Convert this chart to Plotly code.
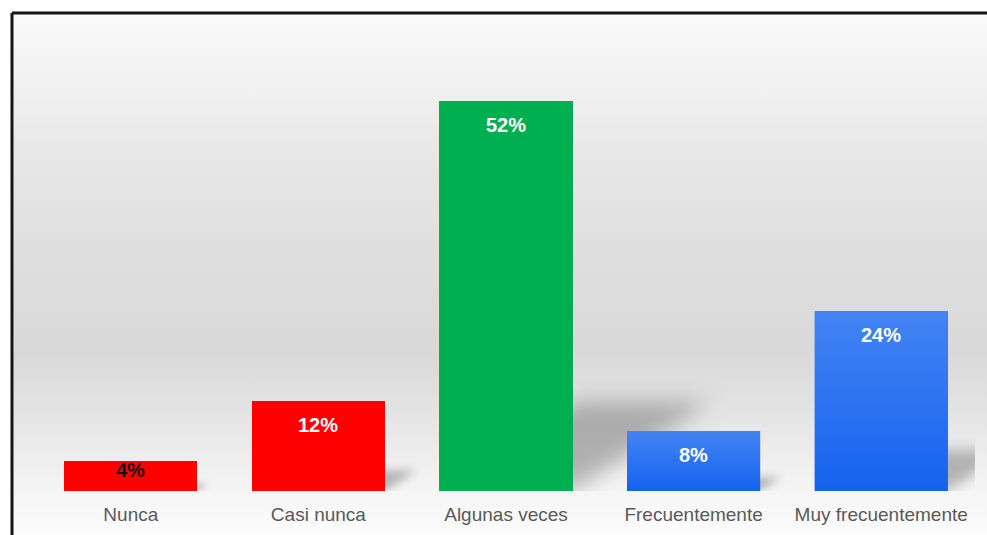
import base64
import plotly.graph_objects as go

# ---- data -------------------------------------------------------------
categories = ["Nunca", "Casi nunca", "Algunas veces", "Frecuentemente", "Muy frecuentemente"]
values = [4, 12, 52, 8, 24]
value_labels = ["4%", "12%", "52%", "8%", "24%"]

# ---- styling ----------------------------------------------------------
BAR_COLORS = ["#ff0000", "#ff0000", "#00b050", "#2b72f1", "#2b72f1"]
# vertical gradients (bottom, top) applied on top of the blue bars
BAR_GRADIENTS = [None, None, None, ("#1563ee", "#4384f3"), ("#1563ee", "#4384f3")]
BAR_WIDTH = 0.71
Y_MAX = 60

W, H = 987, 535
PLOT_X0, PLOT_X1 = 37, 975      # plotting area, px from the left
PLOT_Y0, PLOT_Y1 = 44, 494      # plotting area, px from the bottom
PLOT_W = PLOT_X1 - PLOT_X0
PLOT_H = PLOT_Y1 - PLOT_Y0
PX_X = PLOT_W / len(categories)   # pixels per category unit
PX_Y = PLOT_H / Y_MAX             # pixels per percent
X_MIN, X_MAX = -0.5, len(categories) - 0.5

# chart box: frame at 12 px from the left/top, wash starts just inside it
FRAME_X, FRAME_Y = 12, 13
WASH_STOPS = [(0.0, "#fafafa"), (0.165, "#efefef"), (0.26, "#e8e8e8"), (0.45, "#dfdfdf"),
              (0.645, "#d9d9d9"), (0.74, "#e1e1e1"), (0.837, "#ececec"), (0.916, "#f5f5f5"),
              (1.0, "#fcfcfc")]   # offsets measured from the top of the box

# cast-shadow geometry, relative to the bar height
SHADOW_RISE = 0.228
SHADOW_SHEAR = 0.354


def svg_uri(svg):
    return "data:image/svg+xml;base64," + base64.b64encode(svg.encode()).decode()


def shadow_image(i, v):
    """Blurred parallelogram cast by bar i onto the floor, placed in data coordinates."""
    bar_l, bar_r = i - BAR_WIDTH / 2, i + BAR_WIDTH / 2
    rise = SHADOW_RISE * v                       # data y units
    shear = SHADOW_SHEAR * v * PX_Y / PX_X       # data x units
    blur = 3 + 0.06 * shear * PX_X
    mx, my = 3 * blur / PX_X, 3 * blur / PX_Y
    x0 = bar_l
    x1 = min(bar_r + shear + mx, X_MAX + 0.005)  # keep inside the plotting area
    y0, y1 = 0, rise + my
    wp, hp = (x1 - x0) * PX_X, (y1 - y0) * PX_Y

    def px(x, y):
        return f"{(x - x0) * PX_X:.1f},{(y1 - y) * PX_Y:.1f}"

    pts = " ".join([px(bar_l, 0), px(bar_r, 0), px(bar_r + shear, rise), px(bar_l + shear, rise)])
    svg = (f'<svg xmlns="http://www.w3.org/2000/svg" width="{wp:.1f}" height="{hp:.1f}" '
           f'viewBox="0 0 {wp:.1f} {hp:.1f}" preserveAspectRatio="none"><defs>'
           f'<filter id="b" filterUnits="userSpaceOnUse" x="-50" y="-50" width="{wp + 200:.1f}" '
           f'height="{hp + 100:.1f}"><feGaussianBlur stdDeviation="{blur:.1f}"/></filter></defs>'
           f'<polygon points="{pts}" fill="#000" fill-opacity="0.26" filter="url(#b)"/></svg>')
    return dict(source=svg_uri(svg), xref="x2", yref="y2", x=x0, y=y1, sizex=x1 - x0, sizey=y1 - y0,
                xanchor="left", yanchor="top", sizing="stretch", layer="below")


xs = list(range(len(categories)))

fig = go.Figure()

# grey wash behind the chart, on a full-page pixel axis pair (x / y)
wx0, wy1 = FRAME_X + 1.5, H - FRAME_Y - 1.5
fig.add_trace(go.Scatter(
    x=[wx0, W, W, wx0, wx0], y=[0, 0, wy1, wy1, 0], xaxis="x", yaxis="y",
    mode="lines", fill="toself", line=dict(width=0), hoverinfo="skip", showlegend=False,
    fillgradient=dict(type="vertical", start=0, stop=wy1,
                      colorscale=sorted([[1 - o, c] for o, c in WASH_STOPS]))))

# bars on the chart axes (x2 / y2)
fig.add_trace(go.Bar(x=xs, y=values, width=BAR_WIDTH, xaxis="x2", yaxis="y2",
                     marker=dict(color=BAR_COLORS, line=dict(width=0)),
                     hoverinfo="skip", showlegend=False))

# gradient faces for the blue bars
for i, (v, grad) in enumerate(zip(values, BAR_GRADIENTS)):
    if grad is None:
        continue
    l, r = i - BAR_WIDTH / 2, i + BAR_WIDTH / 2
    fig.add_trace(go.Scatter(x=[l, r, r, l, l], y=[0, 0, v, v, 0], xaxis="x2", yaxis="y2",
                             mode="lines", fill="toself",
                             line=dict(width=0), hoverinfo="skip", showlegend=False,
                             fillgradient=dict(type="vertical",
                                               colorscale=[[0, grad[0]], [1, grad[1]]])))

# value labels inside the top of each bar
annotations = []
for i, (v, lab) in enumerate(zip(values, value_labels)):
    bar_px = v * PX_Y
    shift = -min(24, bar_px / 2 - 6)
    annotations.append(dict(x=i, y=v, text=f"<b>{lab}</b>", showarrow=False, yanchor="middle",
                            yshift=shift, xref="x2", yref="y2",
                            font=dict(family="Liberation Sans, Arial", size=20,
                                      color="#111111" if bar_px < 40 else "#ffffff")))

# frame lines (top and left edges of the chart box)
fx, fy = FRAME_X / W, (H - FRAME_Y) / H
shapes = [
    dict(type="line", xref="paper", yref="paper", x0=fx, x1=1, y0=fy, y1=fy,
         line=dict(color="#151515", width=3)),
    dict(type="line", xref="paper", yref="paper", x0=fx, x1=fx, y0=fy, y1=0,
         line=dict(color="#151515", width=3)),
]

fig.update_layout(
    width=W, height=H,
    margin=dict(l=0, r=0, t=0, b=0, pad=0, autoexpand=False),
    paper_bgcolor="#ffffff", plot_bgcolor="rgba(0,0,0,0)",
    bargap=0, showlegend=False,
    xaxis=dict(domain=[0, 1], range=[0, W], visible=False, fixedrange=True),
    yaxis=dict(domain=[0, 1], range=[0, H], visible=False, fixedrange=True),
    xaxis2=dict(domain=[PLOT_X0 / W, PLOT_X1 / W], anchor="y2", range=[X_MIN, X_MAX],
                tickvals=xs, ticktext=categories, automargin=False,
                showgrid=False, zeroline=False, showline=False, ticks="", ticklabelstandoff=10,
                tickfont=dict(family="Liberation Sans, Arial", size=19, color="#595959")),
    yaxis2=dict(domain=[PLOT_Y0 / H, PLOT_Y1 / H], anchor="x2", range=[0, Y_MAX], visible=False,
                showgrid=False, zeroline=False, automargin=False),
    annotations=annotations, shapes=shapes,
    images=[shadow_image(i, v) for i, v in enumerate(values)],
)

fig.write_html("out.html", config={"displayModeBar": False})
